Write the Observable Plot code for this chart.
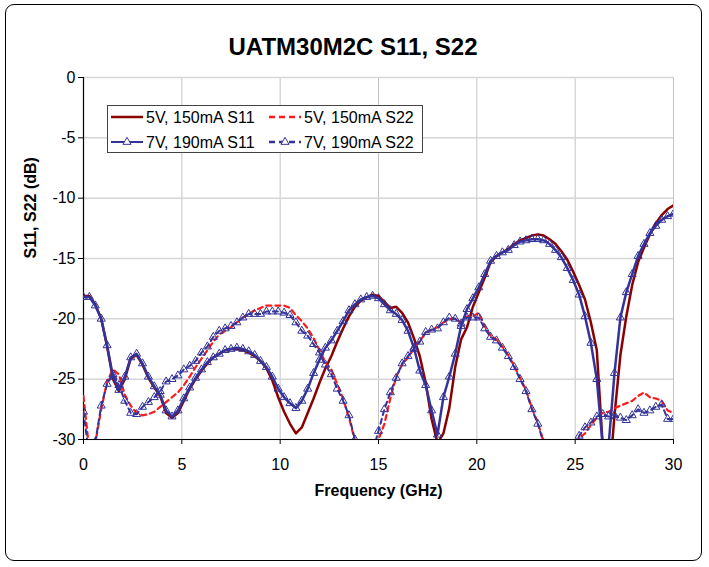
<!DOCTYPE html>
<html>
<head>
<meta charset="utf-8">
<script src="https://cdn.jsdelivr.net/npm/d3@7"></script>
<script src="https://cdn.jsdelivr.net/npm/@observablehq/plot@0.6"></script>
<style>
  body { margin: 0; background: #fff; font-family: "Liberation Sans", Arial, sans-serif; }
  #wrap { position: relative; width: 709px; height: 567px; overflow: hidden; }
  #frame { position: absolute; left: 5px; top: 4px; width: 697px; height: 557px; border: 1px solid #000; border-radius: 9px; box-sizing: border-box; }
  #title { position: absolute; left: 0; top: 33px; width: 706px; text-align: center; font-weight: bold; font-size: 24px; line-height: 28px; color: #000; }
  #chart { position: absolute; left: 0; top: 0; }
  #legend { position: absolute; left: 0; top: 0; }
</style>
</head>
<body>
<div id="wrap">
  <div id="frame"></div>
  <div id="title">UATM30M2C S11, S22</div>
  <div id="chart"></div>
  <div id="legend"></div>
</div>
<script>
// ---- Data ----
const freq = [0,0.3,0.6,0.9,1.2,1.5,1.8,2.1,2.4,2.7,3,3.3,3.6,3.9,4.2,4.5,4.8,5.1,5.4,5.7,
  6,6.3,6.6,6.9,7.2,7.5,7.8,8.1,8.4,8.7,9,9.3,9.6,9.9,10.2,10.5,10.8,11.1,11.4,11.7,
  12,12.3,12.6,12.9,13.2,13.5,13.8,14.1,14.4,14.7,15,15.3,15.6,15.9,16.2,16.5,16.8,17.1,17.4,17.7,
  18,18.3,18.6,18.9,19.2,19.5,19.8,20.1,20.4,20.7,21,21.3,21.6,21.9,22.2,22.5,22.8,23.1,23.4,23.7,
  24,24.3,24.6,24.9,25.2,25.5,25.8,26.1,26.4,26.7,27,27.3,27.6,27.9,28.2,28.5,28.8,29.1,29.4,29.7,30];

const s11_5V = [-18.1,-18.1,-18.8,-20.0,-22.3,-25.0,-26.0,-25.0,-23.3,-23.0,
  -23.8,-24.9,-25.7,-26.4,-27.8,-28.2,-27.8,-26.8,-25.8,-25.0,
  -24.3,-23.7,-23.2,-22.9,-22.6,-22.5,-22.5,-22.6,-22.8,-23.1,
  -23.5,-24.1,-25.1,-26.5,-27.7,-28.7,-29.5,-29.0,-27.8,-26.6,
  -25.3,-24.1,-23.1,-21.9,-20.8,-19.8,-19.0,-18.5,-18.2,-18.0,
  -18.1,-18.6,-19.1,-19.0,-19.5,-20.3,-21.6,-23.1,-25.3,-28.3,
  -30.3,-29.5,-27.4,-24.0,-21.7,-20.7,-19.0,-17.8,-16.6,-15.3,
  -14.8,-14.5,-14.2,-13.8,-13.5,-13.3,-13.1,-13.0,-13.1,-13.4,
  -13.8,-14.4,-15.1,-16.1,-17.2,-18.4,-20.3,-22.6,-30.5,-34.0,
  -28.0,-23.0,-19.8,-17.2,-15.3,-14.1,-13.0,-12.1,-11.4,-10.9,-10.6];

const s22_5V = [-26.4,-31.0,-30.3,-27.5,-25.2,-24.2,-24.6,-26.3,-27.2,-27.8,
  -28.0,-27.9,-27.7,-27.3,-26.9,-26.5,-26.1,-25.5,-24.8,-24.0,
  -23.3,-22.6,-21.9,-21.3,-21.0,-20.7,-20.3,-19.9,-19.6,-19.3,
  -19.1,-18.9,-18.9,-18.9,-18.9,-19.1,-19.7,-20.2,-20.8,-21.6,
  -22.6,-23.6,-24.2,-25.4,-26.6,-28.2,-30.1,-32.0,-33.0,-32.0,
  -30.0,-28.7,-26.6,-24.8,-23.8,-23.2,-22.5,-21.8,-21.2,-20.9,
  -20.7,-20.3,-20.0,-20.0,-20.3,-19.8,-19.8,-19.5,-20.6,-21.4,
  -21.7,-22.3,-23.0,-23.9,-24.9,-25.9,-27.4,-28.6,-30.2,-32.0,
  -33.0,-33.0,-33.0,-32.0,-29.9,-29.5,-28.8,-28.2,-27.8,-27.7,
  -27.4,-27.2,-27.0,-26.8,-26.4,-26.1,-26.5,-26.6,-26.8,-27.6,-27.8];

const s11_7V = [-18.2,-18.2,-18.9,-20.0,-22.2,-24.8,-25.9,-24.8,-23.2,-22.9,
  -23.7,-24.8,-25.6,-26.3,-27.6,-28.1,-27.6,-26.6,-25.7,-24.9,
  -24.2,-23.6,-23.2,-22.9,-22.6,-22.5,-22.4,-22.5,-22.7,-23.0,
  -23.5,-24.0,-24.8,-25.8,-26.5,-27.0,-27.4,-26.8,-25.8,-24.5,
  -23.4,-22.4,-21.8,-21.0,-20.2,-19.3,-18.8,-18.4,-18.2,-18.1,
  -18.3,-18.8,-19.3,-19.6,-20.1,-21.0,-22.4,-24.3,-25.5,-27.6,
  -29.6,-26.5,-24.8,-22.9,-20.6,-19.2,-18.3,-17.4,-16.3,-15.2,
  -14.8,-14.5,-14.3,-13.9,-13.6,-13.5,-13.4,-13.4,-13.5,-13.8,
  -14.3,-14.9,-15.8,-16.8,-18.0,-19.8,-22.0,-25.0,-30.5,-30.5,
  -24.5,-19.9,-17.8,-16.3,-14.8,-13.8,-12.9,-12.3,-11.8,-11.5,-11.3];

const s22_7V = [-27.7,-31.5,-30.2,-27.2,-25.4,-24.6,-25.5,-26.8,-27.8,-27.9,
  -27.3,-26.9,-26.5,-26.0,-25.2,-25.0,-24.7,-24.2,-23.9,-23.5,
  -22.8,-22.3,-21.5,-21.0,-20.8,-20.6,-20.3,-19.9,-19.6,-19.6,
  -19.6,-19.4,-19.4,-19.4,-19.5,-19.7,-20.3,-21.0,-21.4,-22.1,
  -22.8,-23.8,-24.6,-25.8,-26.8,-28.0,-30.0,-32.0,-33.0,-31.0,
  -29.3,-27.5,-26.1,-24.9,-23.7,-23.1,-22.5,-21.9,-21.1,-20.9,
  -20.8,-20.3,-19.9,-20.0,-20.4,-19.9,-19.9,-19.9,-20.8,-21.5,
  -21.8,-22.4,-23.1,-24.0,-25.0,-26.0,-27.5,-28.7,-30.3,-32.0,
  -33.0,-33.0,-33.0,-31.5,-29.7,-29.0,-28.6,-28.1,-27.9,-28.1,
  -28.0,-28.2,-28.4,-28.0,-27.5,-27.8,-27.6,-27.3,-27.1,-28.3,-28.3];

const xTicks = [0,5,10,15,20,25,30];
const yTicks = [0,-5,-10,-15,-20,-25,-30];
const seriesNames = ["5V, 150mA S11","5V, 150mA S22","7V, 190mA S11","7V, 190mA S22"];
const titleText = "UATM30M2C S11, S22";
const xLabel = "Frequency (GHz)";
const yLabel = "S11, S22 (dB)";

// ---- Styles ----
const C_DARKRED = "#8b0000";
const C_RED = "#ff1a1a";
const C_BLUE = "#333399";
const FONT = '"Liberation Sans", Arial, sans-serif';

const toRows = arr => freq.map((f, i) => ({f, v: arr[i]}));
const d11_5 = toRows(s11_5V), d22_5 = toRows(s22_5V), d11_7 = toRows(s11_7V), d22_7 = toRows(s22_7V);

const chart = Plot.plot({
  width: 709,
  height: 567,
  marginLeft: 83,
  marginRight: 36,
  marginTop: 77,
  marginBottom: 128,
  style: {fontFamily: FONT, fontSize: "16px", color: "#000", background: "transparent", overflow: "visible"},
  x: {domain: [0, 30]},
  y: {domain: [-30, 0]},
  marks: [
    Plot.gridX(xTicks, {stroke: "#c4c4c4", strokeOpacity: 1, strokeWidth: 1}),
    Plot.gridY(yTicks, {stroke: "#d6d6d6", strokeOpacity: 1, strokeWidth: 1.5}),
    Plot.ruleX([0], {stroke: "#000", strokeWidth: 1.2}),
    Plot.ruleY([-30], {stroke: "#000", strokeWidth: 1.2}),
    Plot.axisX(xTicks, {tickSize: 5, tickPadding: 14, label: null, fontSize: 16, stroke: "#000"}),
    Plot.axisY(yTicks, {tickSize: 5, tickPadding: 3, label: null, fontSize: 16, tickFormat: d => d === 0 ? "0" : String(d).replace("−","-")}),
    Plot.text([xLabel], {frameAnchor: "bottom", dy: 56, fontWeight: "bold", fontSize: 16, fill: "#000"}),
    Plot.text([yLabel], {frameAnchor: "left", dx: -53, rotate: -90, fontWeight: "bold", fontSize: 16, fill: "#000"}),
    Plot.line(d11_5, {x: "f", y: "v", stroke: C_DARKRED, strokeWidth: 2.5, clip: true}),
    Plot.line(d22_5, {x: "f", y: "v", stroke: C_RED, strokeWidth: 2.2, strokeDasharray: "5,4", clip: true}),
    Plot.line(d11_7, {x: "f", y: "v", stroke: C_BLUE, strokeWidth: 2.5, clip: true}),
    Plot.dot(d11_7, {x: "f", y: "v", symbol: "triangle", r: 3, stroke: C_BLUE, fill: "none", strokeWidth: 1, clip: true}),
    Plot.line(d22_7, {x: "f", y: "v", stroke: C_BLUE, strokeWidth: 2, strokeDasharray: "5,4", clip: true}),
    Plot.dot(d22_7, {x: "f", y: "v", symbol: "triangle", r: 3, stroke: C_BLUE, fill: "none", strokeWidth: 1, clip: true})
  ]
});
document.getElementById("chart").appendChild(chart);
document.getElementById("title").textContent = titleText;

// ---- Legend ----
const lg = d3.select("#legend").append("svg").attr("width", 709).attr("height", 567)
  .style("font-family", FONT);
lg.append("rect").attr("x", 107.5).attr("y", 105.5).attr("width", 315).attr("height", 47)
  .attr("fill", "#fff").attr("stroke", "#444").attr("stroke-width", 1);
const items = [
  {name: seriesNames[0], x: 111, y: 117, color: C_DARKRED, dash: null, w: 2.5, tri: false},
  {name: seriesNames[1], x: 269, y: 117, color: C_RED, dash: "6,4", w: 2.5, tri: false},
  {name: seriesNames[2], x: 111, y: 142, color: C_BLUE, dash: null, w: 2, tri: true},
  {name: seriesNames[3], x: 269, y: 142, color: C_BLUE, dash: "6,4", w: 2.5, tri: true}
];
const tri = d3.symbol(d3.symbolTriangle, Math.PI * 9);
for (const it of items) {
  lg.append("line").attr("x1", it.x).attr("x2", it.x + 32).attr("y1", it.y).attr("y2", it.y)
    .attr("stroke", it.color).attr("stroke-width", it.w).attr("stroke-dasharray", it.dash);
  if (it.tri) {
    lg.append("path").attr("d", tri()).attr("transform", `translate(${it.x + 16},${it.y})`)
      .attr("fill", "#fff").attr("stroke", it.color).attr("stroke-width", 1);
  }
  lg.append("text").attr("x", it.x + 35).attr("y", it.y).attr("dy", "0.36em")
    .attr("font-size", 16).attr("fill", "#000").text(it.name);
}
</script>
</body>
</html>
